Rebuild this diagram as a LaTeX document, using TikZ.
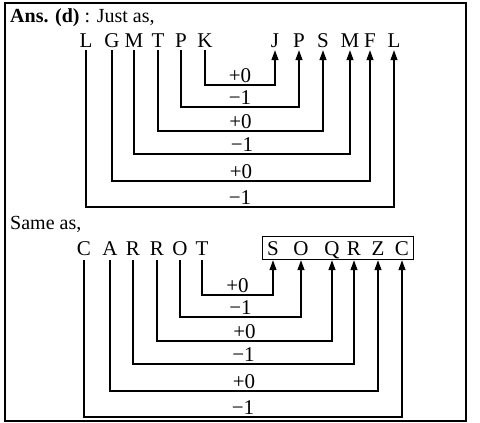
\documentclass[tikz,border=0pt]{standalone}
\usepackage{fontspec}
\setmainfont{Liberation Serif}
\usetikzlibrary{arrows.meta,fit}

\begin{document}
\begin{tikzpicture}[x=1pt, y=-1pt, font=\fontsize{21}{24}\selectfont,
    ch/.style={anchor=base, inner sep=0pt, text height=14pt, text depth=0pt},
    lab/.style={above, inner sep=2pt, text depth=0pt},
    link/.style={draw, line width=1.2pt, -{Triangle[width=7pt,length=10pt]}, shorten <=3pt, shorten >=3pt}]
    \useasboundingbox(0,0)rectangle(480,423);
    % frame
    \path[draw, line width=1.2pt](5,3)rectangle(466,421);
    % first code
    \node[anchor=base west, inner sep=0pt, font=\fontsize{20}{24}\selectfont](ans)at(10,23){\textbf{Ans. (d)} : Just as,};
    \node[ch](q1)at(86,47){L};
    \node[ch](q2)at(112,47){G};
    \node[ch](q3)at(134,47){M};
    \node[ch](q4)at(158,47){T};
    \node[ch](q5)at(181,47){P};
    \node[ch](q6)at(205,47){K};
    \node[ch](r1)at(275,47){J};
    \node[ch](r2)at(299,47){P};
    \node[ch](r3)at(323,47){S};
    \node[ch](r4)at(350,47){M};
    \node[ch](r5)at(370,47){F};
    \node[ch](r6)at(394,47){L};
    % levels
    \coordinate(h1)at(0,85);
    \coordinate(h2)at(0,107);
    \coordinate(h3)at(0,131);
    \coordinate(h4)at(0,154);
    \coordinate(h5)at(0,181);
    \coordinate(h6)at(0,207);
    \path[link](q6.south)--(q6.south|-h1)--node[lab]{+0}(r1.south|-h1)--(r1.south);
    \path[link](q5.south)--(q5.south|-h2)--node[lab]{−1}(r2.south|-h2)--(r2.south);
    \path[link](q4.south)--(q4.south|-h3)--node[lab]{+0}(r3.south|-h3)--(r3.south);
    \path[link](q3.south)--(q3.south|-h4)--node[lab]{−1}(r4.south|-h4)--(r4.south);
    \path[link](q2.south)--(q2.south|-h5)--node[lab]{+0}(r5.south|-h5)--(r5.south);
    \path[link](q1.south)--(q1.south|-h6)--node[lab]{−1}(r6.south|-h6)--(r6.south);
    % second code
    \node[anchor=base west, inner sep=0pt, font=\fontsize{20}{24}\selectfont](same)at(10,229){Same as,};
    \node[ch](c1)at(84,255){C};
    \node[ch](c2)at(110,255){A};
    \node[ch](c3)at(133,255){R};
    \node[ch](c4)at(157,255){R};
    \node[ch](c5)at(180,255){O};
    \node[ch](c6)at(202,255){T};
    \node[ch](d1)at(273,255){S};
    \node[ch](d2)at(301,255){O};
    \node[ch](d3)at(332,255){Q};
    \node[ch](d4)at(354,255){R};
    \node[ch](d5)at(378,255){Z};
    \node[ch](d6)at(402,255){C};
    \node[draw, line width=1pt, inner xsep=4pt, inner ysep=4pt, fit=(d1)(d6)](box){};
    % levels
    \coordinate(k1)at(0,295);
    \coordinate(k2)at(0,317);
    \coordinate(k3)at(0,341);
    \coordinate(k4)at(0,364);
    \coordinate(k5)at(0,391);
    \coordinate(k6)at(0,417);
    \begin{scope}[link/.append style={shorten <=5pt, shorten >=5pt}]
    \path[link](c6.south)--(c6.south|-k1)--node[lab]{+0}(d1.south|-k1)--(d1.south);
    \path[link](c5.south)--(c5.south|-k2)--node[lab]{−1}(d2.south|-k2)--(d2.south);
    \path[link](c4.south)--(c4.south|-k3)--node[lab]{+0}(d3.south|-k3)--(d3.south);
    \path[link](c3.south)--(c3.south|-k4)--node[lab]{−1}(d4.south|-k4)--(d4.south);
    \path[link](c2.south)--(c2.south|-k5)--node[lab]{+0}(d5.south|-k5)--(d5.south);
    \path[link](c1.south)--(c1.south|-k6)--node[lab]{−1}(d6.south|-k6)--(d6.south);
    \end{scope}
\end{tikzpicture}
\end{document}
